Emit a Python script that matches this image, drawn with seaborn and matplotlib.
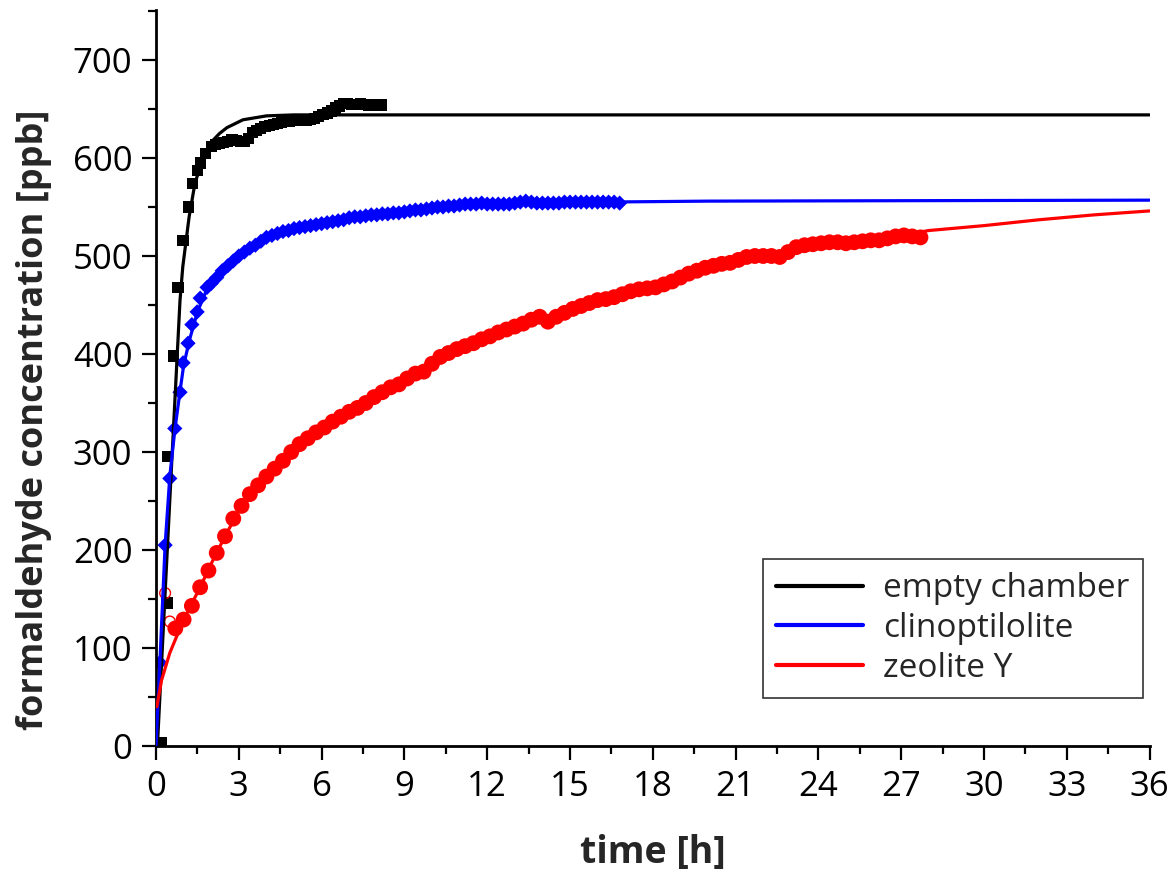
import numpy as np
import pandas as pd
import matplotlib
matplotlib.use("Agg")
import matplotlib.pyplot as plt
from matplotlib.ticker import MultipleLocator
import seaborn as sns

# --------------------------------------------------------------------------
# Donnees (temps en h, concentration en ppb)
# --------------------------------------------------------------------------
empty_t = [0.2, 0.4, 0.43, 0.62, 0.8, 0.98, 1.17, 1.33, 1.49, 1.6, 1.78,
           2.0, 2.15, 2.3, 2.45, 2.6, 2.75, 2.9, 3.05, 3.2, 3.35,
           3.5, 3.65, 3.8, 3.95, 4.1, 4.25, 4.4, 4.55, 4.7, 4.85,
           5.0, 5.15, 5.3, 5.45, 5.6, 5.75, 5.9, 6.05, 6.2, 6.35,
           6.5, 6.65, 6.8, 6.95, 7.1, 7.25, 7.4, 7.55, 7.7, 7.85,
           8.0, 8.15]
empty_c = [3, 146, 295, 398, 468, 516, 550, 574, 587, 595, 605,
           612, 614, 615, 616, 617, 619, 618, 617, 617, 620,
           626, 628, 630, 632, 633, 634, 635, 636, 637, 637,
           638, 638, 638, 638, 639, 640, 642, 644, 646, 648,
           651, 653, 656, 656, 655, 655, 656, 655, 654, 654,
           654, 654]

empty_fit_t = [0.05, 0.5, 0.87, 0.97, 1.2, 1.41, 1.7, 1.96, 2.3, 2.57, 3.15,
               4.0, 5.0, 36.0]
empty_fit_c = [0, 251, 455, 489, 540, 574, 600, 615, 625, 631, 639,
               643, 644, 644]

clino_t = [0.14, 0.33, 0.5, 0.68, 0.87, 0.98, 1.16, 1.3, 1.49, 1.6, 1.85,
           2.0, 2.2, 2.4, 2.6, 2.8, 3.0, 3.2, 3.4, 3.6, 3.8,
           4.0, 4.2, 4.4, 4.6, 4.8, 5.0, 5.2, 5.4, 5.6, 5.8,
           6.0, 6.2, 6.4, 6.6, 6.8, 7.0, 7.2, 7.4, 7.6, 7.8,
           8.0, 8.2, 8.4, 8.6, 8.8, 9.0, 9.2, 9.4, 9.6, 9.8,
           10.0, 10.2, 10.4, 10.6, 10.8, 11.0, 11.2, 11.4, 11.6, 11.8,
           12.0, 12.2, 12.4, 12.6, 12.8, 13.0, 13.2, 13.4, 13.6, 13.8,
           14.0, 14.2, 14.4, 14.6, 14.8, 15.0, 15.2, 15.4, 15.6, 15.8,
           16.0, 16.2, 16.4, 16.6, 16.8]
clino_c = [85, 205, 273, 324, 361, 391, 411, 430, 443, 457, 468,
           472, 478, 485, 490, 495, 500, 504, 508, 511, 515,
           519, 521, 523, 525, 526, 528, 529, 530, 531, 532,
           533, 534, 535, 536, 537, 539, 540, 540, 541, 542,
           542, 543, 543, 544, 544, 545, 546, 547, 547, 548,
           549, 550, 550, 551, 551, 552, 553, 553, 553, 554,
           553, 553, 553, 553, 553, 554, 555, 556, 555, 554,
           554, 554, 554, 554, 555, 555, 555, 555, 555, 555,
           555, 555, 555, 555, 554]

clino_fit_t = [0.0, 0.14, 0.33, 0.5, 0.68, 0.87, 1.0, 1.2, 1.5, 1.8, 2.2, 2.6,
               3.0, 3.5, 4.0, 5.0, 6.0, 7.0, 8.0, 9.0, 10.0, 11.0, 12.0, 14.0,
               16.0, 20.0, 28.0, 36.0]
clino_fit_c = [0, 85, 205, 275, 322, 362, 388, 413, 443, 463, 480, 492,
               501, 510, 518, 527, 533, 538, 542, 546, 549, 551, 553, 554,
               555, 556, 556.5, 557]

zeo_t = [0.7, 1.0, 1.3, 1.6, 1.9, 2.2, 2.5, 2.8, 3.1, 3.4, 3.7, 4.0, 4.3, 4.6,
         4.9, 5.2, 5.5, 5.8, 6.1, 6.4, 6.7, 7.0, 7.3, 7.6, 7.9, 8.2, 8.5, 8.8,
         9.1, 9.4, 9.7, 10.0, 10.3, 10.6, 10.9, 11.2, 11.5, 11.8, 12.1, 12.4,
         12.7, 13.0, 13.3, 13.6, 13.9, 14.2, 14.5, 14.8, 15.1, 15.4, 15.7,
         16.0, 16.3, 16.6, 16.9, 17.2, 17.5, 17.8, 18.1, 18.4, 18.7, 19.0,
         19.3, 19.6, 19.9, 20.2, 20.5, 20.8, 21.1, 21.4, 21.7, 22.0, 22.3,
         22.6, 22.9, 23.2, 23.5, 23.8, 24.1, 24.4, 24.7, 25.0, 25.3, 25.6,
         25.9, 26.2, 26.5, 26.8, 27.1, 27.4, 27.7]
zeo_c = [120, 129, 143, 162, 179, 197, 214, 232, 245, 257, 266, 275, 283, 291,
         300, 308, 314, 320, 325, 331, 336, 341, 345, 350, 356, 361, 366, 369,
         375, 380, 382, 390, 397, 401, 405, 408, 411, 415, 418, 422,
         425, 428, 431, 435, 438, 433, 438, 442, 446, 449, 452,
         455, 456, 458, 461, 464, 466, 467, 468, 471, 474, 478,
         482, 485, 488, 490, 492, 493, 496, 499, 500, 500, 500,
         499, 504, 509, 511, 512, 513, 514, 514, 513, 514, 515,
         516, 516, 518, 520, 521, 520, 519]
zeo_open_t = [0.33, 0.5]
zeo_open_c = [156, 127]

zeo_fit_t = [0.03, 0.2, 0.5, 0.87, 1.2, 1.6, 2.0, 2.5, 3.0, 3.5, 4.0, 5.0, 6.0,
             7.0, 8.0, 9.0, 10.0, 11.0, 12.0, 13.0, 14.0, 15.0, 16.0, 17.0,
             18.0, 19.0, 20.0, 21.0, 22.0, 23.0, 24.0, 25.0, 26.0, 27.0, 28.0,
             30.0, 32.0, 34.0, 36.0]
zeo_fit_c = [40, 67, 95, 120, 140, 162, 186, 214, 240, 259, 275, 302, 324,
             341, 358, 373, 389, 405, 417, 428, 437, 446, 455, 462,
             469, 478, 488, 495, 501, 506, 511, 515, 518, 521, 526,
             531, 537, 542, 546]

labels = ["empty chamber", "clinoptilolite", "zeolite Y"]
colors = ["black", "#0000ff", "#ff0000"]

sns.set_style("ticks")
plt.rcParams["font.family"] = ["Open Sans", "DejaVu Sans"]

fig = plt.figure(figsize=(11.73, 8.73), dpi=100)
ax = fig.add_axes([0.133, 0.1455, 0.847, 0.843])

# points de mesure
sns.scatterplot(x=empty_t, y=empty_c, marker="s", s=65, color=colors[0],
                edgecolor="none", ax=ax, zorder=2)
sns.scatterplot(x=clino_t, y=clino_c, marker="D", s=60, color=colors[1],
                edgecolor="none", ax=ax, zorder=2)
sns.scatterplot(x=zeo_t, y=zeo_c, marker="o", s=130, color=colors[2],
                edgecolor="none", ax=ax, zorder=2)
ax.scatter(zeo_open_t, zeo_open_c, marker="o", s=60, facecolors="none",
           edgecolors=colors[2], linewidths=1.0, zorder=2)

# courbes d'ajustement
fits = [(empty_fit_t, empty_fit_c), (clino_fit_t, clino_fit_c),
        (zeo_fit_t, zeo_fit_c)]
for (ft, fc), lab, col in zip(fits, labels, colors):
    sns.lineplot(x=ft, y=fc, color=col, lw=2.3, label=lab, sort=False,
                 estimator=None, ax=ax, zorder=3)

ax.set_xlim(0, 36)
ax.set_ylim(0, 751)
ax.xaxis.set_major_locator(MultipleLocator(3))
ax.xaxis.set_minor_locator(MultipleLocator(1.5))
ax.yaxis.set_major_locator(MultipleLocator(100))
ax.yaxis.set_minor_locator(MultipleLocator(50))
ax.tick_params(which="major", length=10, width=1.6, labelsize=25, pad=7,
               color="black", labelcolor="black")
ax.tick_params(which="minor", length=6, width=1.6, color="black")

sns.despine(ax=ax)
for sp in ["left", "bottom"]:
    ax.spines[sp].set_linewidth(2.0)
    ax.spines[sp].set_color("black")

ax.set_xlabel("time [h]", fontsize=27, fontweight="bold", labelpad=22)
ax.set_ylabel("formaldehyde concentration [ppb]", fontsize=26,
              fontweight="bold")
ax.yaxis.set_label_coords(-0.105, 0.443)

leg = ax.legend(loc="lower right", bbox_to_anchor=(0.993, 0.065),
                fontsize=24, frameon=True, fancybox=False, handlelength=2.6,
                labelspacing=0.2, borderpad=0.4, handletextpad=0.6,
                borderaxespad=0)
leg.get_frame().set_edgecolor("black")
leg.get_frame().set_linewidth(1.2)
for ln in leg.get_lines():
    ln.set_linewidth(3)

fig.savefig("out.png", dpi=100)
